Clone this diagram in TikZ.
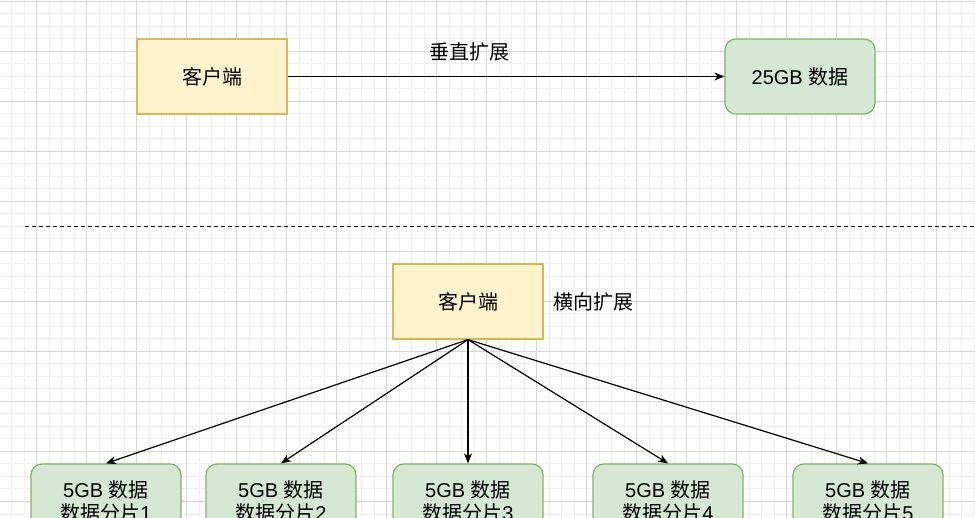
\documentclass[tikz,border=0pt]{standalone}
\usepackage{fontspec}
\setmainfont{Liberation Sans}
\newfontfamily\cjk{Noto Sans CJK SC}
\usetikzlibrary{arrows.meta}
\definecolor{yfill}{HTML}{FFF2CC}
\definecolor{ydraw}{HTML}{D6B656}
\definecolor{gfill}{HTML}{D5E8D4}
\definecolor{gdraw}{HTML}{82B366}
\definecolor{minorgrid}{HTML}{F0F0F0}
\definecolor{majorgrid}{HTML}{D6D6D6}
\begin{document}
\begin{tikzpicture}[x=1pt,y=-1pt,
 client/.style={draw=ydraw,fill=yfill,line width=1.2pt,minimum width=150pt,minimum height=75pt,inner sep=0pt,font=\fontsize{20}{23}\selectfont\cjk},
 data/.style={draw=gdraw,fill=gfill,line width=1.2pt,rounded corners=11pt,minimum width=150pt,minimum height=75pt,inner sep=0pt,align=center,font=\fontsize{20}{23}\selectfont},
 conn/.style={line width=1.2pt,-{Stealth[length=10pt,width=8pt,inset=3pt]}},
 lbl/.style={font=\fontsize{20}{23}\selectfont\cjk,inner sep=0pt},
 sep/.style={line width=1.2pt,dash pattern=on 4pt off 3pt}]
\useasboundingbox (0,0) rectangle (975,518);
\fill[white] (0,0) rectangle (975,518);
% grid
\foreach \i in {-2,...,75} \draw[minorgrid,line width=1pt] ({36.5+12.5*\i},0) -- ({36.5+12.5*\i},518);
\foreach \j in {0,...,42} \draw[minorgrid,line width=1pt] (0,{1.5+12.5*\j}) -- (975,{1.5+12.5*\j});
\foreach \i in {-1,...,19} \draw[majorgrid,line width=1pt] ({36.5+50*\i},0) -- ({36.5+50*\i},518);
\foreach \j in {0,...,10} \draw[majorgrid,line width=1pt] (0,{1.5+50*\j}) -- (975,{1.5+50*\j});
% top part
\node[client] (c1) at (212,76.5) {客户端};
\node[data] (big) at (800,76.5) {25GB {\cjk 数据}};
\draw[conn] (c1) -- (big);
\node[lbl] (vlbl) at (469,52) {垂直扩展};
% separator
\coordinate (sepL) at (25,226.5);
\coordinate (sepR) at (975,226.5);
\draw[sep] (sepL) -- (sepR);
% bottom part
\node[client] (c2) at (468,301.5) {客户端};
\node[lbl] (hlbl) at (593,302) {横向扩展};
\node[data] (d1) at (106,501.5) {5GB {\cjk 数据}\\{\cjk 数据分片}1};
\node[data] (d2) at (281,501.5) {5GB {\cjk 数据}\\{\cjk 数据分片}2};
\node[data] (d3) at (468,501.5) {5GB {\cjk 数据}\\{\cjk 数据分片}3};
\node[data] (d4) at (668,501.5) {5GB {\cjk 数据}\\{\cjk 数据分片}4};
\node[data] (d5) at (868,501.5) {5GB {\cjk 数据}\\{\cjk 数据分片}5};
\foreach \d in {d1,d2,d3,d4,d5} \draw[conn] (c2.south) -- (\d.north);
\end{tikzpicture}
\end{document}
